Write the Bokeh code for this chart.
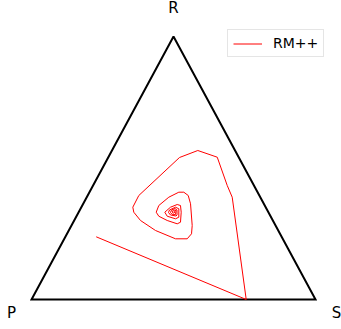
import math
from bokeh.plotting import figure
from bokeh.models import Range1d, Legend, LegendItem
from bokeh.core.properties import value
from bokeh.embed import file_html
from bokeh.resources import INLINE

# Simplex vertices (population shares: R, P, S)
vertex_labels = ["R", "P", "S"]
vertex_r = [1.0, 0.0, 0.0]
vertex_s = [0.0, 0.0, 1.0]

# RM++ trajectory, shares of R and S (P = 1 - R - S)
traj_r = [0.2384, 0.0, 0.3890, 0.4335, 0.5411, 0.5665, 0.5399, 0.3954, 0.3510, 0.3319,
          0.3004, 0.2624, 0.2308, 0.2308, 0.2498, 0.2814, 0.3639, 0.3954, 0.4080, 0.4080,
          0.3890, 0.3574, 0.3319, 0.3167, 0.3004, 0.2878, 0.2939, 0.3319, 0.3574, 0.3612,
          0.3510, 0.3319, 0.3167, 0.3068, 0.3129, 0.3449, 0.3510,
          0.3403, 0.3308, 0.3213, 0.3175, 0.3213, 0.3403, 0.3460, 0.3403, 0.3308, 0.3240,
          0.3232, 0.3384, 0.3403, 0.3327, 0.3289, 0.3327, 0.3346]
traj_s = [0.1086, 0.7560, 0.5122, 0.4724, 0.3834, 0.3023, 0.2511, 0.1801, 0.1812, 0.1942,
          0.2336, 0.3054, 0.3916, 0.4328, 0.4385, 0.4251, 0.3780, 0.3541, 0.3323, 0.3147,
          0.2890, 0.2695, 0.2731, 0.2898, 0.3276, 0.3691, 0.3776, 0.3611, 0.3459, 0.3324,
          0.3139, 0.3034, 0.3194, 0.3536, 0.3622, 0.3463, 0.3315,
          0.3157, 0.3170, 0.3288, 0.3501, 0.3517, 0.3421, 0.3323, 0.3228, 0.3240, 0.3327,
          0.3454, 0.3396, 0.3298, 0.3283, 0.3355, 0.3389, 0.3334]
series_name = "RM++"

H = math.sqrt(3) / 2


def to_xy(r, s):
    return [si + ri / 2 for ri, si in zip(r, s)], [ri * H for ri in r]


vx, vy = to_xy(vertex_r, vertex_s)
tx, ty = to_xy(traj_r, traj_s)

p = figure(width=341, height=329, output_backend="svg", toolbar_location=None,
           x_range=Range1d(-0.1092, 1.0915), y_range=Range1d(-0.0988, 0.9846),
           min_border=0, min_border_left=0, min_border_right=0,
           min_border_top=0, min_border_bottom=0)
p.axis.visible = False
p.grid.visible = False
p.outline_line_color = None
p.background_fill_color = "white"
p.border_fill_color = "white"

# Triangle
p.line(vx + [vx[0]], vy + [vy[0]], line_color="black", line_width=2, line_join="miter")

# Trajectory
r1 = p.line(tx, ty, line_color="#ff0000", line_width=1)

# Vertex labels
x_off = [0, -20, 21]
y_off = [-29, 14, 14]
p.text(vx, vy, text=vertex_labels, x_offset=x_off, y_offset=y_off,
       text_align="center", text_baseline="alphabetic",
       text_font=value("DejaVu Sans"), text_font_size="15px", text_color="black")

legend = Legend(items=[LegendItem(label=series_name, renderers=[r1])],
                location=(227, 272), orientation="vertical",
                border_line_color="#cccccc", border_line_width=1,
                background_fill_color="white", background_fill_alpha=1.0,
                label_text_font="DejaVu Sans", label_text_font_size="14px",
                label_text_color="black",
                glyph_width=29, glyph_height=15, label_height=15,
                label_standoff=11, padding=5, margin=0, spacing=0)
p.add_layout(legend)

open("out.html", "w").write(file_html(p, INLINE))
